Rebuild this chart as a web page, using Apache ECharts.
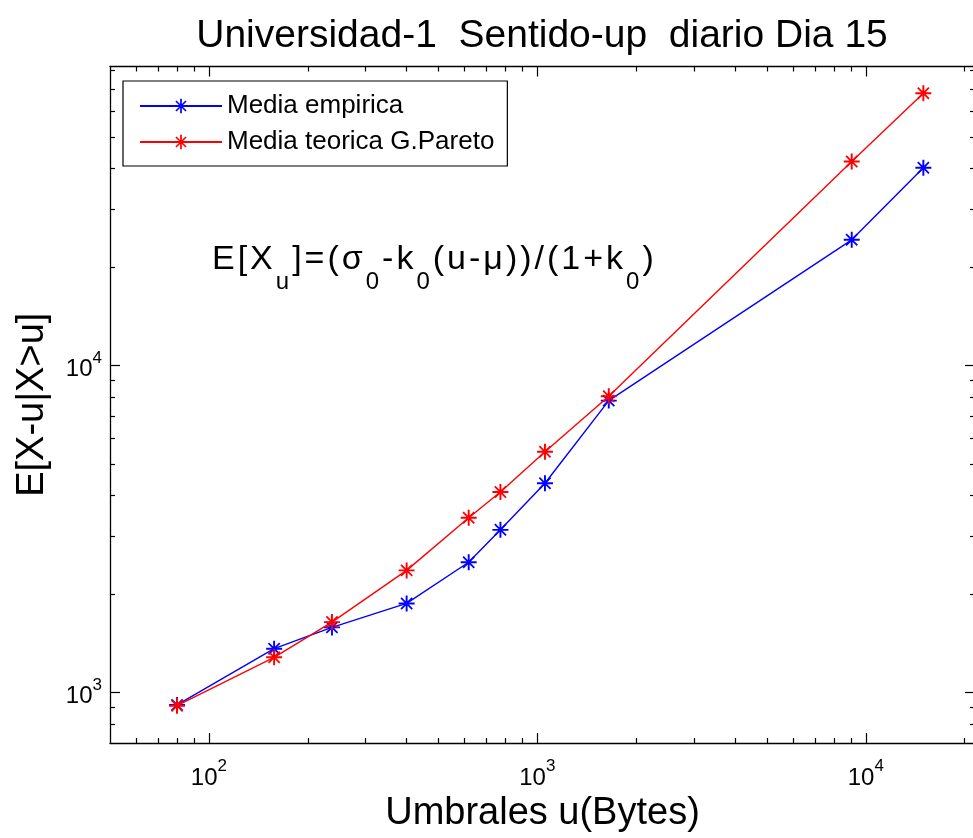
<!DOCTYPE html>
<html>
<head>
<meta charset="utf-8">
<script src="https://cdn.jsdelivr.net/npm/echarts@6/dist/echarts.min.js"></script>
<style>
  html, body { margin: 0; padding: 0; background: #fff; overflow: hidden; }
  #chart { width: 980px; height: 838px; }
</style>
</head>
<body>
<div id="chart"></div>
<script>
// Thresholds u (bytes) and mean excess E[X-u | X>u]
const umbrales = [80, 158, 237, 400, 618, 772, 1055, 1650, 9060, 14970];
const mediaEmpirica = [915, 1360, 1580, 1870, 2500, 3140, 4360, 7800, 24200, 40200];
const mediaTeorica = [910, 1280, 1640, 2360, 3420, 4100, 5440, 8040, 42000, 67900];

// Axis ticks
const xMajorTicks = [100, 1000, 10000];
const xMinorTicks = [60, 70, 80, 90, 200, 300, 400, 500, 600, 700, 800, 900,
                     2000, 3000, 4000, 5000, 6000, 7000, 8000, 9000, 20000];
const yMajorTicks = [1000, 10000];
const yMinorTicks = [800, 900, 2000, 3000, 4000, 5000, 6000, 7000, 8000, 9000,
                     20000, 30000, 40000, 50000, 60000, 70000, 80000];

const xRange = [50, 21500];
const yRange = [700, 82000];

const FONT = 'Liberation Sans, Arial, Helvetica, sans-serif';

// Asterisk marker: plus + diagonal cross + small centre block
const STAR = 'path://M8.8 0L11.2 0L11.2 20L8.8 20Z M0 8.8L20 8.8L20 11.2L0 11.2Z ' +
  'M3.78 2.22L17.78 16.22L16.22 17.78L2.22 3.78Z ' +
  'M17.78 3.78L3.78 17.78L2.22 16.22L16.22 2.22Z M7.5 7.5L12.5 7.5L12.5 12.5L7.5 12.5Z';

function powLabel(v) {
  const e = Math.round(Math.log10(v));
  return '{e|}{b|10}{s|' + e + '}';
}

const tickRich = {
  b: { fontSize: 24, fontFamily: FONT, color: '#000', lineHeight: 24, verticalAlign: 'bottom' },
  s: { fontSize: 17, fontFamily: FONT, color: '#000', lineHeight: 17, verticalAlign: 'top' },
  e: { lineHeight: 32 }
};

// Formula text with a little extra spacing between characters
function spaced(parts) {
  return parts.map(p => {
    if (p.sub) return '{sub|' + p.sub + '}';
    return p.txt.split('').map(c => '{n|' + c + '}').join('');
  }).join('');
}
const formula = spaced([
  { txt: 'E[X' }, { sub: 'u' }, { txt: ']=(σ' }, { sub: '0' }, { txt: '-k' }, { sub: '0' },
  { txt: '(u-μ))/(1+k' }, { sub: '0' }, { txt: ')' }
]);

function makeX(position, major, withLabels) {
  return {
    type: 'log', logBase: 10, min: xRange[0], max: xRange[1],
    position: position, gridIndex: 0,
    splitLine: { show: false },
    axisLine: { show: major, onZero: false, lineStyle: { color: '#000', width: 1.3 } },
    axisTick: { show: true, inside: true, length: major ? 10 : 5,
      customValues: major ? xMajorTicks : xMinorTicks,
      lineStyle: { color: '#000', width: 1.2 } },
    axisLabel: withLabels ? {
      show: true, customValues: xMajorTicks, margin: 15,
      formatter: powLabel, rich: tickRich
    } : { show: false },
    name: withLabels ? 'Umbrales u(Bytes)' : '',
    nameLocation: 'middle', nameGap: 52,
    nameTextStyle: { fontSize: 38, fontFamily: FONT, color: '#000' }
  };
}

function makeY(position, major, withLabels) {
  return {
    type: 'log', logBase: 10, min: yRange[0], max: yRange[1],
    position: position, gridIndex: 0,
    splitLine: { show: false },
    // the right-hand frame edge falls just outside the visible canvas
    axisLine: { show: major && position === 'left', onZero: false, lineStyle: { color: '#000', width: 1.3 } },
    axisTick: { show: true, inside: true, length: major ? 10 : 5,
      customValues: major ? yMajorTicks : yMinorTicks,
      lineStyle: { color: '#000', width: 1.2 } },
    axisLabel: withLabels ? {
      show: true, customValues: yMajorTicks, margin: 8,
      formatter: powLabel, rich: tickRich
    } : { show: false },
    name: withLabels ? 'E[X-u|X>u]' : '',
    nameLocation: 'middle', nameGap: 58, nameRotate: 90,
    nameTextStyle: { fontSize: 38, fontFamily: FONT, color: '#000' }
  };
}

const chart = echarts.init(document.getElementById('chart'), null, { renderer: 'canvas' });

chart.setOption({
  animation: false,
  backgroundColor: '#fff',
  textStyle: { fontFamily: FONT },
  title: {
    text: 'Universidad-1  Sentido-up  diario Dia 15',
    left: 537, top: 12, textAlign: 'center',
    textStyle: { fontSize: 39, fontWeight: 'normal', color: '#000', fontFamily: FONT }
  },
  grid: { left: 110, top: 66.5, right: 5, bottom: 95, outerBoundsMode: 'none', containLabel: false },
  xAxis: [
    makeX('bottom', true, true),
    makeX('bottom', false, false),
    makeX('top', true, false),
    makeX('top', false, false)
  ],
  yAxis: [
    makeY('left', true, true),
    makeY('left', false, false),
    makeY('right', true, false),
    makeY('right', false, false)
  ],
  legend: {
    left: 123, top: 81, orient: 'vertical',
    backgroundColor: '#fff', borderColor: '#000', borderWidth: 1.2,
    padding: [12, 13, 11, 16], itemGap: 10,
    itemWidth: 82, itemHeight: 18,
    textStyle: { fontSize: 26, fontFamily: FONT, color: '#000', lineHeight: 26 },
    data: ['Media empirica', 'Media teorica G.Pareto']
  },
  graphic: [{
    type: 'text', left: 212, top: 243,
    style: {
      text: formula,
      font: '34px ' + FONT, fill: '#000',
      rich: {
        n: { fontSize: 34, fontFamily: FONT, fill: '#000', padding: [0, 3, 0, 0] },
        sub: { fontSize: 24, fontFamily: FONT, fill: '#000', padding: [44, 3, 0, 0] }
      }
    }
  }],
  series: [
    {
      name: 'Media empirica', type: 'line',
      xAxisIndex: 0, yAxisIndex: 0,
      data: umbrales.map((u, i) => [u, mediaEmpirica[i]]),
      symbol: STAR, symbolSize: 16,
      lineStyle: { color: '#0000ff', width: 1.4 },
      itemStyle: { color: '#0000ff' },
      emphasis: { disabled: true }, z: 3
    },
    {
      name: 'Media teorica G.Pareto', type: 'line',
      xAxisIndex: 0, yAxisIndex: 0,
      data: umbrales.map((u, i) => [u, mediaTeorica[i]]),
      symbol: STAR, symbolSize: 16,
      lineStyle: { color: '#ff0000', width: 1.4 },
      itemStyle: { color: '#ff0000' },
      emphasis: { disabled: true }, z: 4
    }
  ]
});
</script>
</body>
</html>
